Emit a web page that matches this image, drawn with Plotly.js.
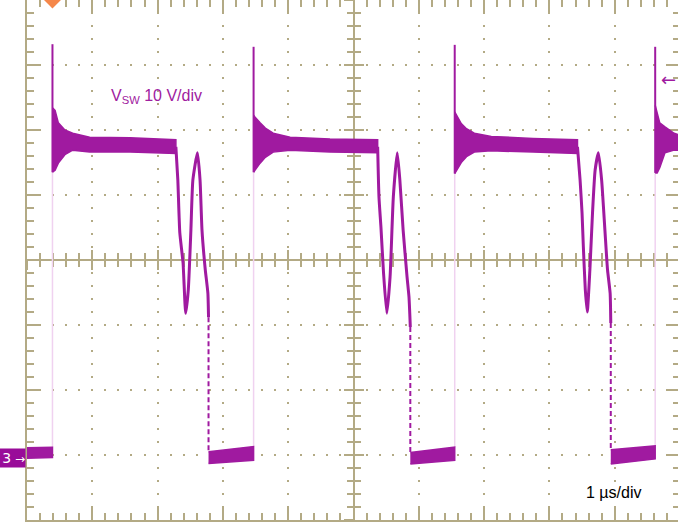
<!DOCTYPE html>
<html><head><meta charset="utf-8">
<script src="https://cdn.plot.ly/plotly-3.0.1.min.js"></script>
<style>html,body{margin:0;padding:0;overflow:hidden;background:#fff}#chart{width:680px;height:522px}</style>
</head><body><div id="chart"></div>
<script>
// ---- data: time in µs (1 µs/div), voltage in V (10 V/div) ----
const riseT  = [0.39, 3.47, 6.55, 9.62];
const spikeV = [63.2, 62.8, 63.1, 62.8];
const fallT  = [2.78, 5.87, 8.94];
const fallTopV = [21.2, 19.7, 20.3];
const triggerT = 0.39;
const triggerLevelV = 57.7;

// plateau envelopes (noisy high level with ringing after the spike)
const plat1T  = [0.39, 0.43, 0.48, 0.58, 0.70, 0.96, 1.58, 2.28];
const plat1Hi = [53.4, 53.0, 51.1, 50.0, 49.5, 48.9, 48.8, 48.5];
const plat1Lo = [43.5, 43.8, 44.9, 46.2, 46.9, 46.6, 46.6, 46.4];
const plat2T  = [3.47, 3.49, 3.57, 3.65, 3.77, 4.03, 4.64, 5.37];
const plat2Hi = [52.3, 52.0, 51.1, 50.3, 49.5, 48.9, 48.6, 48.5];
const plat2Lo = [43.5, 43.8, 44.9, 45.8, 46.6, 46.9, 46.6, 46.5];
const plat3T  = [6.55, 6.58, 6.65, 6.73, 6.85, 7.11, 7.75, 8.43];
const plat3Hi = [52.8, 52.2, 51.0, 50.2, 49.5, 49.0, 48.7, 48.5];
const plat3Lo = [43.3, 43.8, 45.0, 45.9, 46.6, 46.8, 46.6, 46.4];
const plat4T  = [9.62, 9.65, 9.69, 9.77, 9.91, 10.0];
const plat4Hi = [53.8, 52.5, 51.1, 50.5, 49.5, 49.2];
const plat4Lo = [43.4, 43.4, 44.2, 46.5, 46.9, 46.9];

// low level envelopes
const low0T = [0.00, 0.39], low0Hi = [1.1, 1.2], low0Lo = [-0.5, -0.4];
const low1T = [2.78, 3.47], low1Hi = [0.5, 1.3], low1Lo = [-1.3, -0.8];
const low2T = [5.87, 6.55], low2Hi = [0.4, 1.2], low2Lo = [-1.4, -0.8];
const low3T = [8.94, 9.62], low3Hi = [0.8, 1.4], low3Lo = [-1.4, -0.6];

// resonant dips before each fall
const dip1T = [2.28, 2.31, 2.34, 2.39, 2.43, 2.47, 2.51, 2.54, 2.61, 2.65, 2.68, 2.73, 2.77, 2.78];
const dip1V = [47.4, 42.3, 34.2, 29.5, 21.8, 25.4, 34.6, 42.3, 46.5, 42.3, 34.6, 28.5, 24.9, 21.2];
const dip2T = [5.37, 5.39, 5.42, 5.46, 5.51, 5.56, 5.61, 5.67, 5.71, 5.76, 5.82, 5.85, 5.87];
const dip2V = [47.4, 39.7, 35.1, 28.0, 21.8, 27.4, 39.7, 46.5, 42.3, 34.6, 27.4, 24.3, 19.7];
const dip3T = [8.43, 8.47, 8.50, 8.52, 8.55, 8.58, 8.62, 8.66, 8.70, 8.75, 8.80, 8.85, 8.89, 8.93, 8.94];
const dip3V = [47.4, 42.3, 37.2, 32.0, 25.4, 22.0, 28.5, 37.2, 43.8, 46.5, 42.3, 34.6, 28.5, 24.9, 20.3];

// ---- styling ----
const PURPLE = '#a01aa0';
const FAINT = '#f0d2f0';
const GRID = '#b3aa85';

const plats = [[plat1T, plat1Hi, plat1Lo], [plat2T, plat2Hi, plat2Lo], [plat3T, plat3Hi, plat3Lo], [plat4T, plat4Hi, plat4Lo]];
const lows = [[low0T, low0Hi, low0Lo], [low1T, low1Hi, low1Lo], [low2T, low2Hi, low2Lo], [low3T, low3Hi, low3Lo]];
const dips = [[dip1T, dip1V], [dip2T, dip2V], [dip3T, dip3V]];

const common = {xaxis: 'x3', yaxis: 'y3', hoverinfo: 'skip', showlegend: false};
const traces = [];
// dummy traces so the base and middle overlay subplots exist
traces.push({x: [null], y: [null], mode: 'markers', hoverinfo: 'skip', showlegend: false});
traces.push({x: [null], y: [null], mode: 'markers', xaxis: 'x2', yaxis: 'y2', hoverinfo: 'skip', showlegend: false});

// faint rising edges
{
  const ex = [], ey = [];
  riseT.forEach((t, i) => {
    const lo = lows[i][1]; const p = plats[i][2];
    ex.push(t, t, null); ey.push(lo[lo.length - 1], p[0], null);
  });
  traces.push(Object.assign({x: ex, y: ey, mode: 'lines', line: {color: FAINT, width: 1.5}}, common));
}
function band(T, Hi, Lo) {
  return Object.assign({
    x: T.concat(T.slice().reverse()),
    y: Hi.concat(Lo.slice().reverse()),
    mode: 'lines', fill: 'toself', fillcolor: PURPLE,
    line: {color: PURPLE, width: 1.5}
  }, common);
}
plats.forEach(p => traces.push(band(p[0], p[1], p[2])));
lows.forEach(l => traces.push(band(l[0], l[1], l[2])));
dips.forEach(d => traces.push(Object.assign({x: d[0], y: d[1], mode: 'lines',
  line: {color: PURPLE, width: 3, shape: 'spline', smoothing: 0.5}}, common)));
// spikes
{
  const sx = [], sy = [];
  riseT.forEach((t, i) => { sx.push(t, t, null); sy.push(plats[i][2][0], spikeV[i], null); });
  traces.push(Object.assign({x: sx, y: sy, mode: 'lines', line: {color: PURPLE, width: 2}}, common));
}
// falling edges (sparse, dashed)
{
  const fx = [], fy = [];
  fallT.forEach((t, i) => { fx.push(t, t, null); fy.push(fallTopV[i], lows[i + 1][1][0], null); });
  traces.push(Object.assign({x: fx, y: fy, mode: 'lines', line: {color: PURPLE, width: 2, dash: '5px,3px'}}, common));
}
// trigger position diamond
traces.push(Object.assign({x: [triggerT], y: [70], mode: 'markers', cliponaxis: false,
  marker: {symbol: 'diamond', size: 13, color: '#f5874a'}}, common));

function mainAxis(range, dtick, minor, dash) {
  return {range: range, dtick: dtick, tick0: range[0], showticklabels: false,
    ticks: 'inside', ticklen: 13, tickwidth: 2, tickcolor: GRID,
    showline: true, linecolor: GRID, linewidth: 2, mirror: 'allticks',
    showgrid: true, gridcolor: GRID, gridwidth: 2, griddash: dash,
    zeroline: false, fixedrange: true, layer: 'below traces',
    minor: {dtick: minor, tick0: range[0], ticks: 'inside', ticklen: 7, tickwidth: 2, tickcolor: GRID, showgrid: false}};
}
function centerAxis(range, dtick, minor, over, side) {
  return {overlaying: over, anchor: 'free', position: 0.5, range: range, dtick: dtick, tick0: range[0],
    showticklabels: false, ticks: side, ticklen: 9, tickwidth: 2, tickcolor: GRID,
    showline: true, linecolor: GRID, linewidth: 2, showgrid: false, zeroline: false,
    fixedrange: true, layer: 'below traces',
    minor: {dtick: minor, tick0: range[0], ticks: side, ticklen: 6, tickwidth: 2, tickcolor: GRID, showgrid: false}};
}
const XR = [0, 10], YR = [-10, 70];
const layout = {
  width: 680, height: 522,
  margin: {l: 27, r: 0, t: 0, b: 2, pad: 0},
  paper_bgcolor: '#ffffff', plot_bgcolor: '#ffffff',
  showlegend: false, hovermode: false,
  xaxis: mainAxis(XR, 1, 0.2, '1px,11px,1px,0px'),
  yaxis: mainAxis(YR, 10, 2, '1px,11.06px,1px,0px'),
  xaxis2: centerAxis(XR, 1, 0.2, 'x', 'outside'),
  yaxis2: centerAxis(YR, 10, 2, 'y', 'outside'),
  xaxis3: centerAxis(XR, 1, 0.2, 'x', 'inside'),
  yaxis3: centerAxis(YR, 10, 2, 'y', 'inside'),
  font: {family: 'Liberation Sans, Arial, sans-serif'},
  annotations: [
    {xref: 'paper', yref: 'paper', x: 0.126, y: 0.814, xanchor: 'left', yanchor: 'middle',
     text: 'V<sub>SW</sub> 10 V/div', showarrow: false, font: {size: 16, color: '#a020a0'}},
    {xref: 'paper', yref: 'paper', x: 0.853, y: 0.052, xanchor: 'left', yanchor: 'middle',
     text: '1 µs/div', showarrow: false, font: {size: 16, color: '#000000'}},
    {xref: 'paper', yref: 'y', x: 0, y: 0, xanchor: 'right', yanchor: 'middle', yshift: -3, xshift: -1,
     text: '<span style="font-size:14px">3</span> →', showarrow: false, align: 'right', width: 25, height: 18, borderpad: 0,
     bgcolor: '#990c99', font: {family: 'DejaVu Sans, sans-serif', size: 12, color: '#ffffff'}},
    {xref: 'paper', yref: 'y', x: 0.9685, y: triggerLevelV, xanchor: 'left', yanchor: 'middle',
     text: '←', showarrow: false, font: {family: 'DejaVu Sans, sans-serif', size: 18, color: PURPLE}}
  ]
};
Plotly.newPlot('chart', traces, layout, {displayModeBar: false, staticPlot: true});
</script>
</body></html>
